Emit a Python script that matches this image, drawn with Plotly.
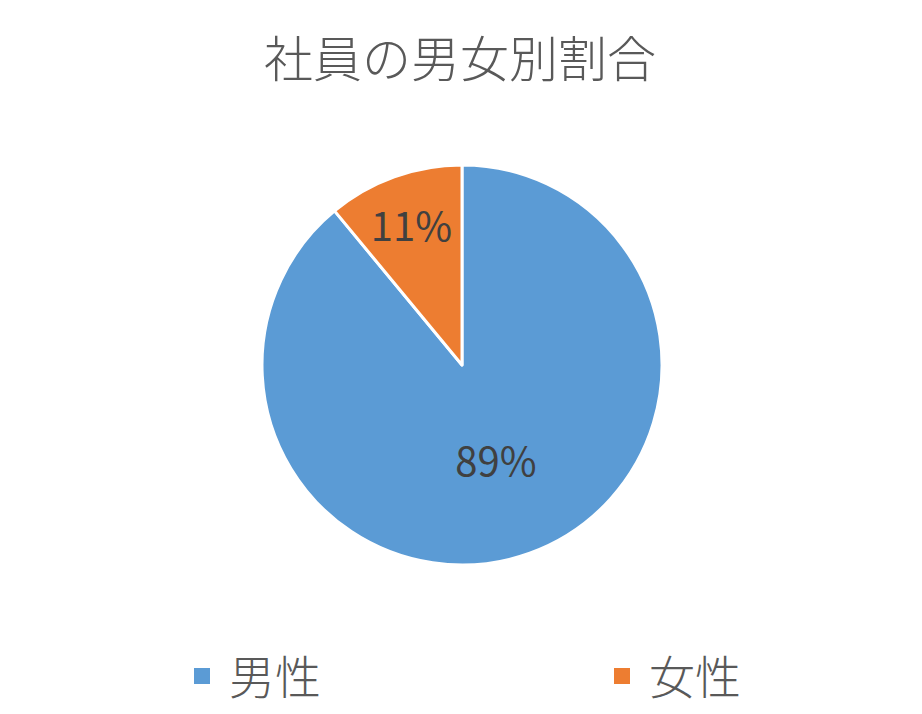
import plotly.graph_objects as go

labels = ["男性", "女性"]
values = [89, 11]
colors = ["#5B9BD5", "#ED7D31"]

fig = go.Figure()
fig.add_trace(go.Pie(
    labels=labels,
    values=values,
    sort=False,
    direction="clockwise",
    rotation=0,
    marker=dict(colors=colors, line=dict(color="white", width=3)),
    textinfo="percent",
    texttemplate="%{percent:.0%}",
    textposition="inside",
    insidetextorientation="horizontal",
    textfont=dict(size=40, color="#404040", family="Noto Sans CJK JP"),
    domain=dict(x=[254 / 922, 654 / 922], y=[157 / 714, 557 / 714]),
    hoverinfo="label+percent",
    showlegend=False,
))

# legend entries (square markers, two separate legends to space them apart)
legend_names = ["legend", "legend2"]
for name, color, lg in zip(labels, colors, legend_names):
    fig.add_trace(go.Scatter(
        x=[None], y=[None], mode="markers", name=name,
        marker=dict(symbol="square", size=16, color=color),
        legend=lg, hoverinfo="skip",
    ))

legend_style = dict(orientation="h", yanchor="middle", y=46 / 714, xanchor="left",
                    font=dict(size=46, color="#595959", weight=300), itemsizing="trace",
                    itemwidth=44, bgcolor="rgba(0,0,0,0)")

fig.update_layout(
    width=922, height=714,
    margin=dict(l=0, r=0, t=0, b=0),
    paper_bgcolor="white",
    plot_bgcolor="white",
    font=dict(family="Noto Sans CJK JP", color="#595959"),
    title=dict(text="社員の男女別割合", x=452 / 922, xanchor="center", y=1 - 52 / 714, yanchor="middle",
               font=dict(size=49, color="#595959", weight=300)),
    xaxis=dict(visible=False),
    yaxis=dict(visible=False),
    legend=dict(x=167 / 922, **legend_style),
    legend2=dict(x=587 / 922, **legend_style),
)

fig.write_html("out.html")
